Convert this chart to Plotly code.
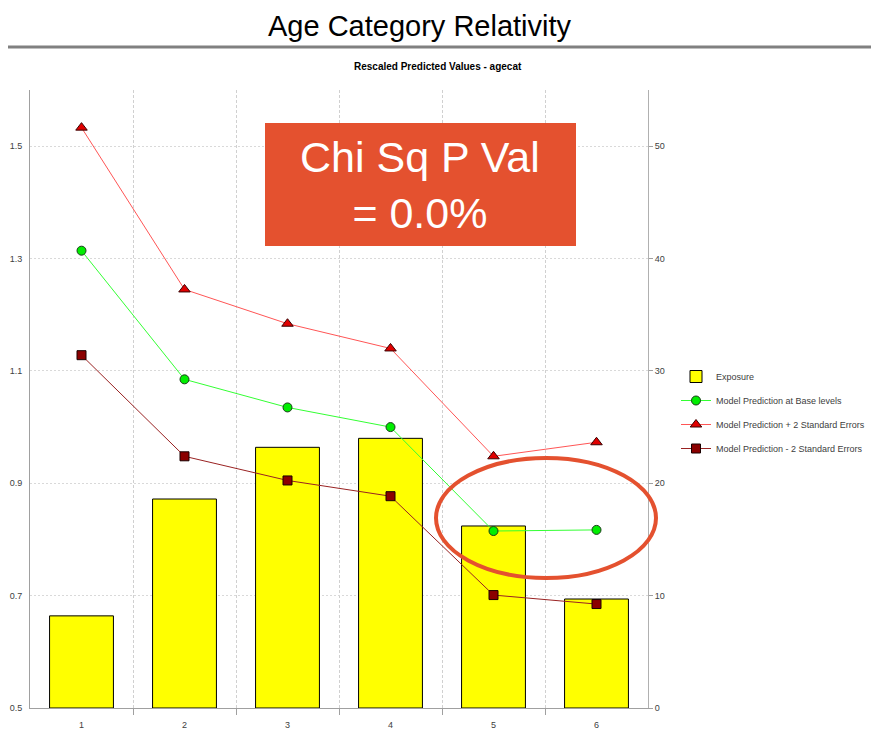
import plotly.graph_objects as go

categories = [1, 2, 3, 4, 5, 6]
exposure = [8.2, 18.6, 23.2, 24.0, 16.2, 9.7]
pred_base = [1.314, 1.085, 1.035, 1.000, 0.815, 0.817]
pred_plus = [1.533, 1.245, 1.184, 1.140, 0.948, 0.973]
pred_minus = [1.128, 0.948, 0.905, 0.877, 0.701, 0.685]
left_ticks = [0.5, 0.7, 0.9, 1.1, 1.3, 1.5]
right_ticks = [0, 10, 20, 30, 40, 50]
boundaries = [1.5, 2.5, 3.5, 4.5, 5.5]

# plot area in screen pixels: x 30..648, y 90..708 (page has 8px body margin)
def px(xs):
    return (xs - 30) / 618

def py(ys):
    return (708 - ys) / 618

fig = go.Figure()
fig.add_trace(go.Bar(
    x=categories, y=exposure, name="Exposure", width=0.62, legendgroup="a",
    marker=dict(color="#FFFF00", line=dict(color="#000000", width=1)),
    yaxis="y",
))
fig.add_trace(go.Scatter(
    x=categories, y=pred_base, name="Model Prediction at Base levels",
    mode="lines+markers", yaxis="y2", legendgroup="b",
    line=dict(color="#33FF33", width=1),
    marker=dict(symbol="circle", size=9, color="#00EE00", line=dict(color="#1a3a1a", width=1)),
))
fig.add_trace(go.Scatter(
    x=categories, y=pred_plus, name="Model Prediction + 2 Standard Errors",
    mode="lines+markers", yaxis="y2", legendgroup="c",
    line=dict(color="#FF5555", width=1),
    marker=dict(symbol="triangle-up", size=10, color="#E00000", line=dict(color="#3a0000", width=1)),
))
fig.add_trace(go.Scatter(
    x=categories, y=pred_minus, name="Model Prediction - 2 Standard Errors",
    mode="lines+markers", yaxis="y2", legendgroup="d",
    line=dict(color="#992222", width=1),
    marker=dict(symbol="square", size=9, color="#8B0000", line=dict(color="#1a0000", width=1)),
))

tickfont = dict(family="Liberation Sans, Arial", size=9, color="#404040")

fig.update_layout(
    width=871, height=727,
    margin=dict(l=22, r=231, t=82, b=27, autoexpand=False),
    paper_bgcolor="white", plot_bgcolor="white",
    showlegend=True,
    legend=dict(x=px(676), y=py(362), xanchor="left", yanchor="top",
                font=dict(family="Liberation Sans, Arial", size=9, color="#404040"),
                tracegroupgap=5, itemwidth=30, bgcolor="rgba(0,0,0,0)",
                traceorder="grouped"),
    xaxis=dict(
        range=[0.5, 6.5], tickvals=categories, ticktext=[str(c) for c in categories],
        showgrid=False, zeroline=False, showline=True, linecolor="#A0A0A0",
        automargin=False,
        ticks="outside", ticklen=8, tickcolor="rgba(0,0,0,0)", tickfont=tickfont,
        minor=dict(tickvals=boundaries, showgrid=True, gridcolor="#D0D0D0",
                   griddash="3px,2px", gridwidth=1, ticks="outside", ticklen=6, tickcolor="#A0A0A0"),
    ),
    yaxis=dict(
        range=[0, 55], tickvals=right_ticks, side="right", automargin=False,
        showgrid=True, gridcolor="#D9D9D9", griddash="2px,2px", gridwidth=1,
        zeroline=False, showline=True, linecolor="#B0B0B0",
        ticks="outside", ticklen=4, tickcolor="#A0A0A0", tickfont=tickfont,
    ),
    yaxis2=dict(
        range=[0.5, 1.6], tickvals=left_ticks, tickformat=".1f", side="left",
        overlaying="y", showgrid=False, zeroline=False, automargin=False,
        showline=True, linecolor="#A0A0A0",
        ticks="outside", ticklen=5, tickcolor="rgba(0,0,0,0)", tickfont=tickfont,
    ),
)

# Slide title
fig.add_annotation(text="Age Category Relativity", xref="paper", yref="paper",
                   x=px(420), y=py(8), showarrow=False,
                   xanchor="center", yanchor="top",
                   font=dict(family="Liberation Sans, Arial", size=29, color="#000000"))
# Chart title
fig.add_annotation(text="<b>Rescaled Predicted Values - agecat</b>", xref="paper", yref="paper",
                   x=px(438), y=py(67), showarrow=False,
                   xanchor="center", yanchor="middle",
                   font=dict(family="Liberation Sans Narrow, Liberation Sans, Arial", size=10, color="#000000"))

# Frame lines
fig.add_shape(type="line", xref="paper", yref="paper",
              x0=px(0), x1=px(879), y0=py(47), y1=py(47),
              line=dict(color="#808080", width=3))
fig.add_shape(type="line", xref="paper", yref="paper",
              x0=px(877), x1=px(877), y0=py(47), y1=py(740),
              line=dict(color="#C0C0C0", width=1.5))

# Red box with text
fig.add_shape(type="rect", xref="paper", yref="paper",
              x0=px(265), x1=px(576), y0=py(246), y1=py(123),
              fillcolor="#E4512F", line=dict(width=0), layer="above")
fig.add_annotation(text="Chi Sq P Val<br>= 0.0%", xref="paper", yref="paper",
                   x=px(420), y=py(185), showarrow=False,
                   xanchor="center", yanchor="middle",
                   font=dict(family="Liberation Sans, Arial", size=43, color="#FFFFFF"))

# Ellipse highlight
fig.add_shape(type="circle", xref="paper", yref="paper",
              x0=px(436), x1=px(656), y0=py(578), y1=py(458),
              line=dict(color="#E4512F", width=4), layer="above")

fig.write_html("out.html")
